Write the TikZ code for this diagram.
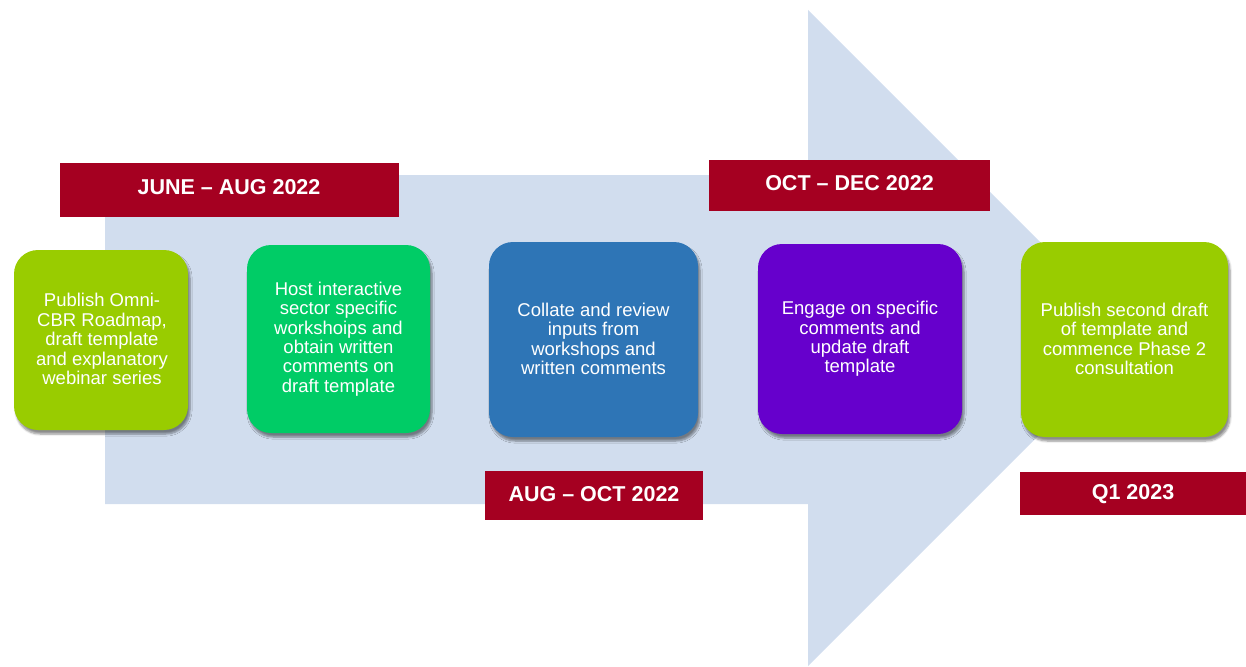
\documentclass[tikz,border=0pt]{standalone}
\usepackage{fontspec}
\setmainfont{Liberation Sans}
\usetikzlibrary{shadows.blur}
\definecolor{arrowfill}{HTML}{D1DDEE}
\definecolor{datered}{HTML}{A50021}
\definecolor{lime}{HTML}{99CC00}
\definecolor{mint}{HTML}{00CC66}
\definecolor{steel}{HTML}{2E75B6}
\definecolor{violet}{HTML}{6600CC}
\tikzset{
  stage/.style={rounded corners=24pt, draw=none,
    blur shadow={shadow xshift=2pt, shadow yshift=-4pt, shadow blur steps=6, shadow opacity=45}},
  stagetext/.style={text=white, align=center, font=\fontsize{18.5}{19.4}\selectfont},
  datebox/.style={fill=datered, draw=none},
  datetext/.style={text=white, font=\fontsize{21.5}{24}\selectfont\bfseries}
}
\begin{document}
\begin{tikzpicture}[x=1pt, y=-1pt]
\useasboundingbox (0,0) rectangle (1246,666);
% big background arrow
\fill[arrowfill] (105,175) -- (808,175) -- (808,10) -- (1136,338) -- (808,666) -- (808,504) -- (105,504) -- cycle;

% date banners
\fill[datebox] (60,163) rectangle (399,217);
\node[datetext] (d1) at (229,187) {JUNE – AUG 2022};
\fill[datebox] (709,160) rectangle (990,211);
\node[datetext] (d2) at (849.5,183) {OCT – DEC 2022};
\fill[datebox] (485,471) rectangle (703,520);
\node[datetext] (d3) at (594,494) {AUG – OCT 2022};
\fill[datebox] (1020,472) rectangle (1246,515);
\node[datetext] (d4) at (1133,494) {Q1 2023};

% stage boxes
\fill[stage, lime] (14,250) rectangle (188,430);
\node[stagetext] (s1) at (102,339) {Publish Omni-\\CBR Roadmap,\\draft template\\and explanatory\\webinar series};
\fill[stage, mint] (247,245) rectangle (430,433);
\node[stagetext] (s2) at (338.5,339) {Host interactive\\sector specific\\workshoips and\\obtain written\\comments on\\draft template};
\fill[stage, steel] (489,242) rectangle (698,437);
\node[stagetext] (s3) at (593.5,339) {Collate and review\\inputs from\\workshops and\\written comments};
\fill[stage, violet] (758,244) rectangle (962,434);
\node[stagetext] (s4) at (860,339) {Engage on specific\\comments and\\update draft\\template};
\fill[stage, lime] (1021,242) rectangle (1228,437);
\node[stagetext] (s5) at (1124.5,339) {Publish second draft\\of template and\\commence Phase 2\\consultation};
\end{tikzpicture}
\end{document}
